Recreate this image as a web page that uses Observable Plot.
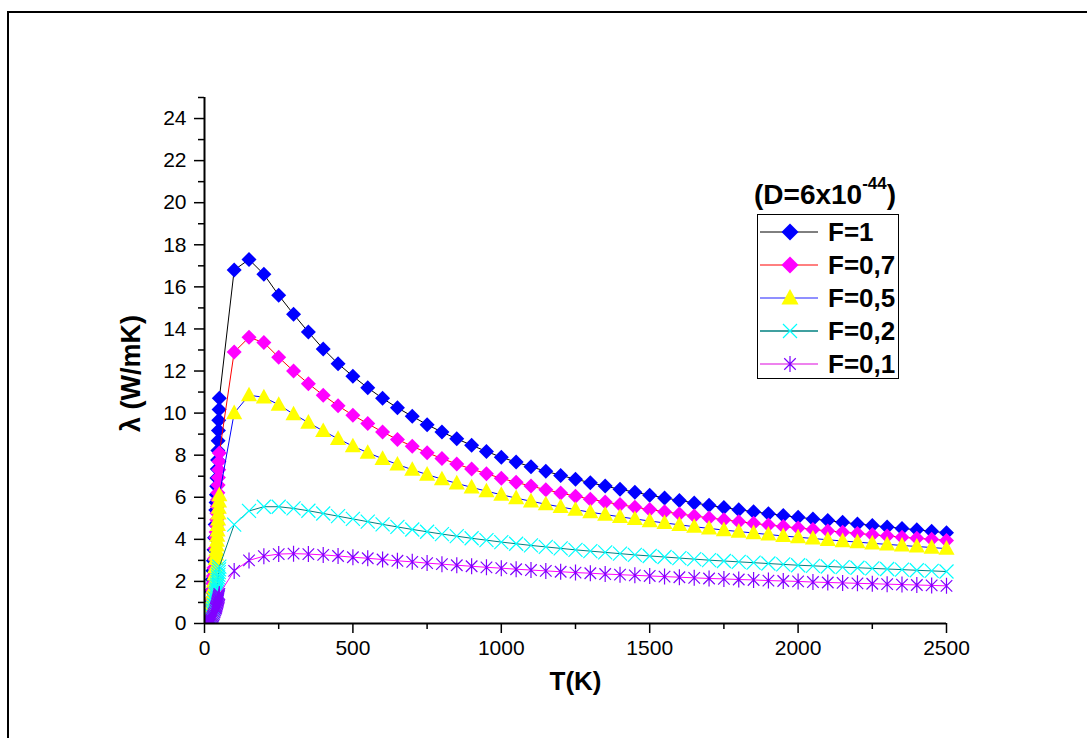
<!DOCTYPE html>
<html><head><meta charset="utf-8">
<script src="https://cdn.jsdelivr.net/npm/d3@7"></script>
<script src="https://cdn.jsdelivr.net/npm/@observablehq/plot@0.6"></script>
<style>
body{margin:0;background:#fff;overflow:hidden;font-family:"Liberation Sans",Arial,sans-serif}
#wrap{position:relative;width:1087px;height:738px}
#frame{position:absolute;left:7px;top:11px;width:1200px;height:900px;border-left:2px solid #000;border-top:2px solid #000;pointer-events:none;z-index:5}
</style></head><body><div id="wrap"><div id="frame"></div></div>
<script>
// Temperature (K)
const lowT = [2,5,8,11,14,17,20,23,26,28,30,32,34,36,38,39,40,41,42,43,44,45,46,47,48,49,50];
const highT = [100,150,200,250,300,350,400,450,500,550,600,650,700,750,800,850,900,950,1000,1050,1100,1150,1200,1250,1300,1350,1400,1450,1500,1550,1600,1650,1700,1750,1800,1850,1900,1950,2000,2050,2100,2150,2200,2250,2300,2350,2400,2450,2500];

// lambda (W/mK) per F
const f1Low = [0.00,0.03,0.11,0.24,0.44,0.72,1.08,1.54,2.09,2.51,2.98,3.51,4.08,4.71,5.39,5.75,6.12,6.52,6.92,7.34,7.77,8.22,8.69,9.17,9.66,10.17,10.7];
const f1High = [16.8,17.3,16.6,15.6,14.7,13.85,13.05,12.35,11.75,11.2,10.7,10.25,9.85,9.45,9.1,8.78,8.47,8.18,7.9,7.67,7.45,7.24,7.04,6.86,6.69,6.53,6.38,6.24,6.1,5.97,5.85,5.73,5.62,5.51,5.41,5.31,5.22,5.13,5.05,4.97,4.89,4.81,4.73,4.66,4.59,4.52,4.45,4.38,4.31];
const f07Low = [0.00,0.03,0.08,0.18,0.34,0.55,0.82,1.16,1.58,1.90,2.26,2.65,3.09,3.56,4.08,4.35,4.64,4.93,5.24,5.56,5.88,6.22,6.58,6.94,7.31,7.70,8.1];
const f07High = [12.9,13.6,13.35,12.65,12.0,11.4,10.85,10.35,9.9,9.5,9.1,8.75,8.42,8.12,7.84,7.58,7.34,7.12,6.9,6.71,6.53,6.36,6.2,6.05,5.91,5.78,5.65,5.53,5.42,5.31,5.21,5.11,5.02,4.93,4.84,4.76,4.68,4.61,4.54,4.47,4.4,4.34,4.28,4.22,4.16,4.1,4.05,4.0,3.95];
const f05Low = [0.00,0.02,0.06,0.14,0.25,0.41,0.62,0.88,1.19,1.43,1.70,2.00,2.33,2.68,3.07,3.28,3.49,3.71,3.94,4.18,4.43,4.69,4.95,5.23,5.51,5.80,6.1];
const f05High = [10.0,10.85,10.75,10.4,9.95,9.55,9.15,8.78,8.43,8.12,7.83,7.56,7.31,7.08,6.86,6.66,6.47,6.29,6.12,5.96,5.81,5.67,5.54,5.41,5.29,5.18,5.07,4.97,4.87,4.78,4.69,4.6,4.52,4.44,4.37,4.3,4.23,4.16,4.1,4.04,3.98,3.92,3.87,3.81,3.76,3.71,3.66,3.61,3.56];
const f02Low = [0.00,0.01,0.03,0.06,0.11,0.18,0.27,0.39,0.53,0.63,0.75,0.88,1.03,1.19,1.36,1.45,1.55,1.64,1.75,1.85,1.96,2.07,2.19,2.31,2.44,2.57,2.7];
const f02High = [4.7,5.35,5.55,5.55,5.47,5.36,5.23,5.1,4.97,4.84,4.71,4.59,4.47,4.36,4.25,4.15,4.05,3.96,3.87,3.79,3.71,3.64,3.57,3.5,3.44,3.38,3.32,3.26,3.21,3.16,3.11,3.06,3.01,2.97,2.93,2.89,2.85,2.81,2.77,2.74,2.71,2.68,2.65,2.62,2.59,2.56,2.53,2.5,2.47];
const f01Low = [0.00,0.00,0.01,0.03,0.06,0.09,0.14,0.20,0.27,0.33,0.39,0.46,0.53,0.62,0.70,0.75,0.80,0.85,0.91,0.96,1.02,1.08,1.14,1.20,1.26,1.33,1.4];
const f01High = [2.5,3.0,3.2,3.3,3.32,3.3,3.26,3.21,3.15,3.1,3.04,2.98,2.93,2.87,2.82,2.77,2.72,2.67,2.63,2.58,2.54,2.5,2.46,2.42,2.39,2.35,2.32,2.29,2.26,2.23,2.2,2.17,2.14,2.12,2.09,2.07,2.04,2.02,2.0,1.97,1.95,1.93,1.91,1.89,1.87,1.85,1.83,1.81,1.79];

const seriesNames = ["F=1","F=0,7","F=0,5","F=0,2","F=0,1"];
const xTicks = [0,500,1000,1500,2000,2500];
const xMinor = [250,750,1250,1750,2250];
const yTicks = [0,2,4,6,8,10,12,14,16,18,20,22,24];
const yMinor = [1,3,5,7,9,11,13,15,17,19,21,23,25];

// symbols (half-size = r)
const rad = s => Math.sqrt(s / Math.PI);
const diamondSym = {draw(c, s){const r = rad(s); c.moveTo(0,-r); c.lineTo(r,0); c.lineTo(0,r); c.lineTo(-r,0); c.closePath();}};
const triSym = {draw(c, s){const r = rad(s); c.moveTo(0,-r); c.lineTo(r*0.95,r*0.72); c.lineTo(-r*0.95,r*0.72); c.closePath();}};
const timesSym = {draw(c, s){const r = rad(s); c.moveTo(-r,-r); c.lineTo(r,r); c.moveTo(r,-r); c.lineTo(-r,r);}};
const starSym = {draw(c, s){const r = rad(s), d = r*0.72; c.moveTo(0,-r); c.lineTo(0,r); c.moveTo(-d,-d); c.lineTo(d,d); c.moveTo(d,-d); c.lineTo(-d,d);}};

const styles = [
  {low:f1Low, high:f1High, line:"#000000", lw:1, sym:diamondSym, r:7.5, fill:"#0000ff", stroke:"none", sw:0, legLine:"#000000", legW:1, legR:8.5},
  {low:f07Low, high:f07High, line:"#ff0000", lw:1, sym:diamondSym, r:7.5, fill:"#ff00ff", stroke:"none", sw:0, legLine:"#ff0000", legW:1, legR:8.5},
  {low:f05Low, high:f05High, line:"#0000ff", lw:1, sym:triSym, r:8.5, fill:"#ffff00", stroke:"none", sw:0, legLine:"#2020ff", legW:1, legR:9},
  {low:f02Low, high:f02High, line:"#008080", lw:1, sym:timesSym, r:7, fill:"none", stroke:"#00ffff", sw:1.2, legLine:"#40a0a0", legW:2, legR:7},
  {low:f01Low, high:f01High, line:"#ff00ff", lw:1, sym:starSym, r:8, fill:"none", stroke:"#8000ff", sw:1.2, legLine:"#ee82ee", legW:2, legR:8}
];

const marks = [];
styles.forEach((st, i) => {
  const lowRows = lowT.map((t, j) => ({T: t, v: st.low[j]}));
  const highRows = highT.map((t, j) => ({T: t, v: st.high[j]}));
  const all = lowRows.concat(highRows);
  marks.push(Plot.line(all, {x: "T", y: "v", stroke: st.line, strokeWidth: st.lw}));
  marks.push(Plot.dot(lowRows, {x: "T", y: "v", symbol: st.sym, r: st.r, fill: st.fill, stroke: st.stroke, strokeWidth: st.sw, clip: true}));
  marks.push(Plot.dot(highRows, {x: "T", y: "v", symbol: st.sym, r: st.r, fill: st.fill, stroke: st.stroke, strokeWidth: st.sw}));
});

const font = "Liberation Sans, Arial, Helvetica, sans-serif";
const chart = Plot.plot({
  width: 1087, height: 738,
  marginLeft: 204, marginRight: 141, marginTop: 97, marginBottom: 115,
  style: {fontFamily: font, fontSize: "21px", background: "transparent", color: "#000"},
  x: {domain: [0, 2500]},
  y: {domain: [0, 25]},
  marks: [
    ...marks,
    Plot.axisX({ticks: xTicks, tickSize: 10, tickPadding: 7, strokeWidth: 1.5, fontSize: 21, tickFormat: d => String(d), label: null}),
    Plot.axisX({ticks: xMinor, tickSize: 6, strokeWidth: 1.5, text: null, label: null}),
    Plot.axisY({ticks: yTicks, tickSize: 10, tickPadding: 8, strokeWidth: 1.5, fontSize: 21, tickFormat: d => String(d), label: null}),
    Plot.axisY({ticks: yMinor, tickSize: 6, strokeWidth: 1.5, text: null, label: null}),
    Plot.ruleY([0], {strokeWidth: 2}),
    Plot.ruleX([0], {strokeWidth: 2}),
    Plot.text(["T(K)"], {text: d => d, frameAnchor: "bottom", dy: 66, fontSize: 26, fontWeight: "bold"}),
    Plot.text(["λ (W/mK)"], {text: d => d, frameAnchor: "left", textAnchor: "middle", dx: -73, dy: 13, rotate: -90, fontSize: 27, fontWeight: "bold"})
  ]
});
document.getElementById("wrap").appendChild(chart);

const svg = d3.select(chart);
svg.selectAll("g").filter(function(){ const a = this.getAttribute("aria-label") || ""; return a.indexOf("tick label") >= 0; })
  .style("font-size", "21px").selectAll("text").style("font-size", "21px");

// legend
const lg = svg.append("g").attr("font-family", font).attr("font-weight", "bold").attr("text-anchor", "start");
const title = lg.append("text").attr("x", 754).attr("y", 204).attr("font-size", 28).attr("fill", "#000");
title.append("tspan").text("(D=6x10");
title.append("tspan").attr("font-size", 17).attr("dy", -15).text("-44");
title.append("tspan").attr("dy", 15).text(")");
lg.append("rect").attr("x", 757.5).attr("y", 214.5).attr("width", 141).attr("height", 164).attr("fill", "none").attr("stroke", "#000").attr("stroke-width", 1);
styles.forEach((st, i) => {
  const y = 232 + i * 33;
  lg.append("line").attr("x1", 760).attr("x2", 818).attr("y1", y).attr("y2", y).attr("stroke", st.legLine).attr("stroke-width", st.legW);
  lg.append("path").attr("transform", `translate(790,${y})`)
    .attr("d", d3.symbol(st.sym, st.legR * st.legR * Math.PI)())
    .attr("fill", st.fill).attr("stroke", st.stroke).attr("stroke-width", st.sw);
  lg.append("text").attr("x", 828).attr("y", y).attr("dy", "0.36em").attr("font-size", 26).attr("fill", "#000").text(seriesNames[i]);
});
</script>
</body></html>
